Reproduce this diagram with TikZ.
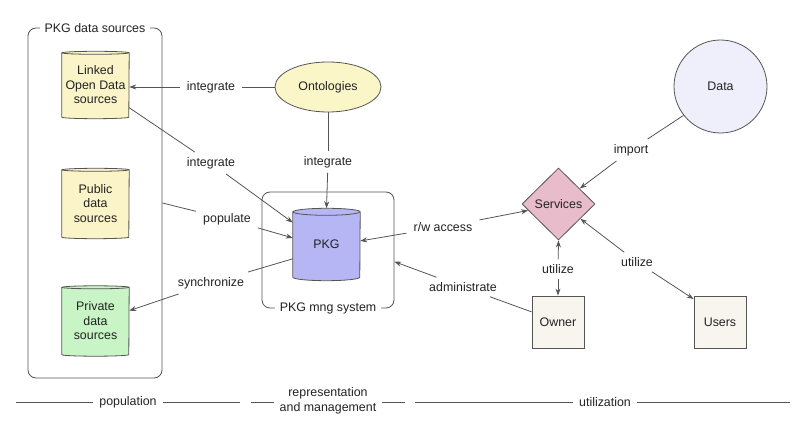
\documentclass[tikz,border=0pt]{standalone}
\usepackage{fontspec}
\setmainfont{Liberation Sans}
\usetikzlibrary{shapes.geometric,arrows.meta,calc,backgrounds}

\definecolor{txt}{HTML}{222222}
\definecolor{edge}{HTML}{555555}
\definecolor{lodfill}{HTML}{FAF4C8}
\definecolor{privfill}{HTML}{C8F4C6}
\definecolor{pkgfill}{HTML}{B6B6F4}
\definecolor{ontofill}{HTML}{FBF6C8}
\definecolor{svcfill}{HTML}{E8BCCB}
\definecolor{datafill}{HTML}{EFEFFB}
\definecolor{actorfill}{HTML}{F8F5EE}

% cylinder body drawn behind a named store node
\newcommand\cylbody[3]{%
  \begin{scope}[on background layer]
    \path[draw=edge, fill=#2, line width=0.8pt]
      (#1.north west) -- (#1.south west)
      arc[start angle=180, end angle=360, x radius=33.5pt, y radius=#3]
      -- (#1.north east)
      arc[start angle=0, end angle=180, x radius=33.5pt, y radius=#3] -- cycle;
    \draw[edge, line width=0.8pt] (#1.north west)
      arc[start angle=180, end angle=360, x radius=33.5pt, y radius=#3];
  \end{scope}}

\begin{document}
\begin{tikzpicture}[x=1pt, y=-1pt,
  font=\fontsize{12.4}{14.5}\selectfont,
  every node/.style={text=txt},
  conn/.style={draw=edge, line width=0.8pt},
  tip/.style={conn, -{Stealth[length=7pt, width=5pt]}},
  twotip/.style={conn, {Stealth[length=7pt, width=5pt]}-{Stealth[length=7pt, width=5pt]}},
  lab/.style={inner xsep=7pt, inner ysep=5pt},
  store/.style={minimum width=67pt, inner sep=0pt, align=center},
  frame/.style={draw=edge, line width=0.8pt, rounded corners=8pt},
  caption/.style={fill=white, inner xsep=5pt, inner ysep=2pt},
  actor/.style={draw=edge, line width=0.8pt, fill=actorfill, minimum size=52pt, inner sep=0pt},
  phase/.style={inner xsep=6pt, inner ysep=1pt, align=center}]

\useasboundingbox (0,0) rectangle (800,435);

% --- data sources group
\node[frame, minimum width=134pt, minimum height=350pt] (src) at (95,203) {};
\node[caption] (srccap) at (src.north) {PKG data sources};

\node[store, minimum height=64pt] (lod) at (95.5,85) {Linked\\Open Data\\sources};
\cylbody{lod}{lodfill}{1.5pt}
\node[store, minimum height=67pt] (pub) at (95.5,203.5) {Public\\data\\sources};
\cylbody{pub}{lodfill}{1.5pt}
\node[store, minimum height=67pt] (priv) at (95.5,321) {Private\\data\\sources};
\cylbody{priv}{privfill}{1.5pt}

% --- management system
\node[frame, minimum width=132pt, minimum height=116pt] (mng) at (328,250) {};
\node[caption] (mngcap) at (mng.south) {PKG mng system};
\node[store, minimum height=65pt] (pkg) at (326.5,244.5) {PKG};
\cylbody{pkg}{pkgfill}{3.5pt}

\node[ellipse, draw=edge, line width=0.8pt, fill=ontofill, minimum width=106pt,
      minimum height=50pt, inner sep=0pt] (onto) at (328,87) {Ontologies};

% --- utilization side
\node[diamond, draw=edge, line width=0.8pt, fill=svcfill, minimum width=73pt,
      minimum height=72pt, inner sep=0pt] (svc) at (558.5,204) {Services};
\node[circle, draw=edge, line width=0.8pt, fill=datafill, minimum size=93pt,
      inner sep=0pt] (data) at (720.5,86.5) {Data};
\node[actor] (own) at (558,322) {Owner};
\node[actor] (usr) at (720,322) {Users};

% --- connector labels
\node[lab] (i1) at (211,87) {integrate};
\node[lab] (i2) at (211,163) {integrate};
\node[lab] (pop) at (227,219) {populate};
\node[lab] (syn) at (211,283) {synchronize};
\node[lab] (i3) at (328,162) {integrate};
\node[lab] (rw) at (443,227) {r/w access};
\node[lab] (adm) at (463,287) {administrate};
\node[lab] (imp) at (631,150) {import};
\node[lab] (u1) at (558,269) {utilize};
\node[lab] (u2) at (637,262) {utilize};

\coordinate (pkgtop) at ($(pkg.north)+(0,-3.5)$);

% --- connectors
\draw[conn] (onto.west) -- (i1);
\draw[tip] (i1) -- (onto.west -| lod.east);

\draw[conn] (lod.-34) -- (i2);
\draw[tip] (i2) -- (pkg.147);

\draw[conn] (src.east) -- (pop);
\draw[tip] (pop) -- (pkg.169);

\draw[conn] (pkg.203) -- (syn);
\draw[tip] (syn) -- (priv.17);

\draw[conn] (onto.south) -- (i3);
\draw[tip] (i3) -- (pkgtop);

\draw[tip] (rw) -- (pkg.6);
\draw[tip] (rw) -- (svc.192);

\draw[conn] (own.159) -- (adm);
\draw[tip] (adm) -- (mng.-10);

\draw[conn] (data.218) -- (imp);
\draw[tip] (imp) -- (svc.36);

\draw[tip] (u1) -- (svc.south);
\draw[tip] (u1) -- (own.north);

\draw[tip] (u2) -- (svc.-34);
\draw[tip] (u2) -- (usr.139);

% --- phase ruler
\node[phase] (ph1) at (128,402) {population};
\node[phase] (ph2) at (328,401) {representation\\and management};
\node[phase] (ph3) at (605,402) {utilization};
\coordinate (a1) at (16,402);
\coordinate (a2) at (240,402);
\coordinate (b1) at (251,402);
\coordinate (b2) at (405,402);
\coordinate (c1) at (415,402);
\coordinate (c2) at (790,402);
\draw[conn] (a1) -- (ph1.west);
\draw[conn] (ph1.east) -- (a2);
\draw[conn] (b1) -- (ph2.west |- b1);
\draw[conn] (ph2.east |- b2) -- (b2);
\draw[conn] (c1) -- (ph3.west);
\draw[conn] (ph3.east) -- (c2);
\end{tikzpicture}
\end{document}
